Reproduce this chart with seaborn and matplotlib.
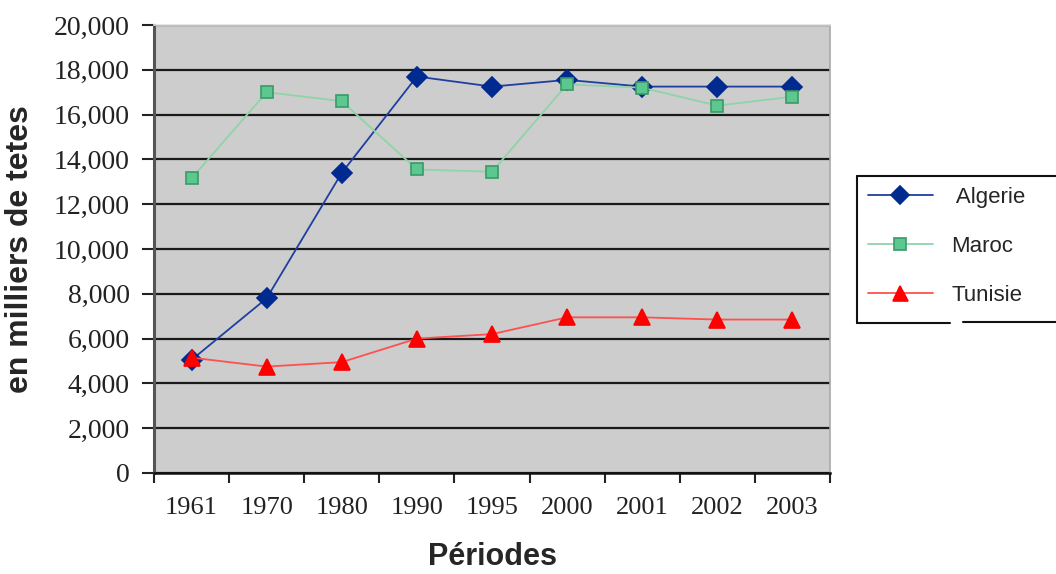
import matplotlib
matplotlib.use("Agg")
import matplotlib.pyplot as plt
from matplotlib.lines import Line2D
from matplotlib.patches import Rectangle
from matplotlib.ticker import FixedLocator, FuncFormatter
import pandas as pd
import seaborn as sns

# Cheptel (en milliers de têtes) par pays et par période
periodes = ["1961", "1970", "1980", "1990", "1995", "2000", "2001", "2002", "2003"]
algerie = [5050, 7800, 13400, 17700, 17250, 17550, 17250, 17250, 17250]
maroc = [13150, 17000, 16600, 13550, 13450, 17350, 17200, 16400, 16800]
tunisie = [5150, 4750, 4950, 6000, 6200, 6950, 6950, 6850, 6850]

series = [
    (" Algerie", algerie, "#1f3fa0", "D", "#002a8f", "#002a8f", 10),
    ("Maroc", maroc, "#8fd4a8", "s", "#5cc890", "#3a9a68", 9),
    ("Tunisie", tunisie, "#ff5050", "^", "#ff0000", "#ff0000", 12),
]

sns.set_theme(style="white")
plt.rcParams["font.family"] = ["Liberation Sans", "DejaVu Sans"]

fig = plt.figure(figsize=(10.56, 5.74), dpi=100)
ax = fig.add_axes([154 / 1056, 1 - 473 / 574, (830 - 154) / 1056, (473 - 25) / 574])
ax.set_facecolor("#cdcdcd")

for name, vals, lc, mk, mfc, mec, ms in series:
    df = pd.DataFrame({"Période": periodes, "Valeur": vals})
    sns.lineplot(data=df, x="Période", y="Valeur", ax=ax, sort=False,
                 color=lc, linewidth=1.3, marker=mk, markersize=ms,
                 markerfacecolor=mfc, markeredgecolor=mec, markeredgewidth=1.2,
                 label=name)

ax.set_xlim(-0.5, len(periodes) - 0.5)
ax.set_ylim(0, 20000)
ax.set_yticks(range(0, 20001, 2000))
ax.yaxis.set_major_formatter(FuncFormatter(lambda v, p: f"{int(v):,}"))

# horizontal grid
ax.yaxis.grid(True, color="#1a1a1a", linewidth=1.6)
ax.xaxis.grid(False)
ax.set_axisbelow(True)

# category boundaries carry the x tick marks
ax.xaxis.set_minor_locator(FixedLocator([i - 0.5 for i in range(len(periodes) + 1)]))
ax.tick_params(axis="x", which="major", length=0, pad=17,
               labelsize=19, labelcolor="#222222")
ax.tick_params(axis="x", which="minor", bottom=True, length=7, width=1.5,
               color="#222222", direction="out")
ax.tick_params(axis="y", which="major", left=True, length=8.6, width=1.5,
               color="#222222", direction="out", pad=9,
               labelsize=20, labelcolor="#222222")
for lbl in ax.get_xticklabels() + ax.get_yticklabels():
    lbl.set_family("Liberation Serif")

for side in ["left", "bottom"]:
    ax.spines[side].set_visible(True)
ax.spines["left"].set_color("#555555")
ax.spines["left"].set_linewidth(2.2)
ax.spines["bottom"].set_color("#111111")
ax.spines["bottom"].set_linewidth(1.8)
ax.spines["top"].set_color("#e2e2e2")
ax.spines["top"].set_linewidth(1.2)
ax.spines["right"].set_color("#a8a8a8")
ax.spines["right"].set_linewidth(1.2)

ax.set_xlabel("Périodes", fontsize=22, fontweight="bold", labelpad=17)
ax.set_ylabel("en milliers de tetes", fontsize=23, fontweight="bold", labelpad=13)

# legend, outside on the right, with its own frame
handles, labels = ax.get_legend_handles_labels()
ax.get_legend().remove()
fig.patches.append(Rectangle((857 / 1056, 1 - 323 / 574), 210 / 1056, 147 / 574,
                             transform=fig.transFigure, facecolor="white",
                             edgecolor="none", zorder=0))
frame_kw = dict(transform=fig.transFigure, color="#111111", linewidth=1.5)
x0, x1 = 857 / 1056, 1.0
y_top, y_bot = 1 - 176 / 574, 1 - 323 / 574
fig.lines.extend([
    Line2D([x0, x1], [y_top, y_top], **frame_kw),
    Line2D([x0, x0], [y_top, y_bot], **frame_kw),
    Line2D([x0, 950 / 1056], [y_bot, y_bot], **frame_kw),
    Line2D([963 / 1056, x1], [y_bot + 0.7 / 574, y_bot + 0.7 / 574], **frame_kw),
])
fig.legend(handles, labels, loc="upper left",
           bbox_to_anchor=(857 / 1056, 1 - 176 / 574), bbox_transform=fig.transFigure,
           frameon=False, fontsize=16, handlelength=2.9, handletextpad=0.85,
           labelspacing=1.25, borderpad=0.5, borderaxespad=0, markerscale=0.9)

fig.savefig("out.png", dpi=100)
